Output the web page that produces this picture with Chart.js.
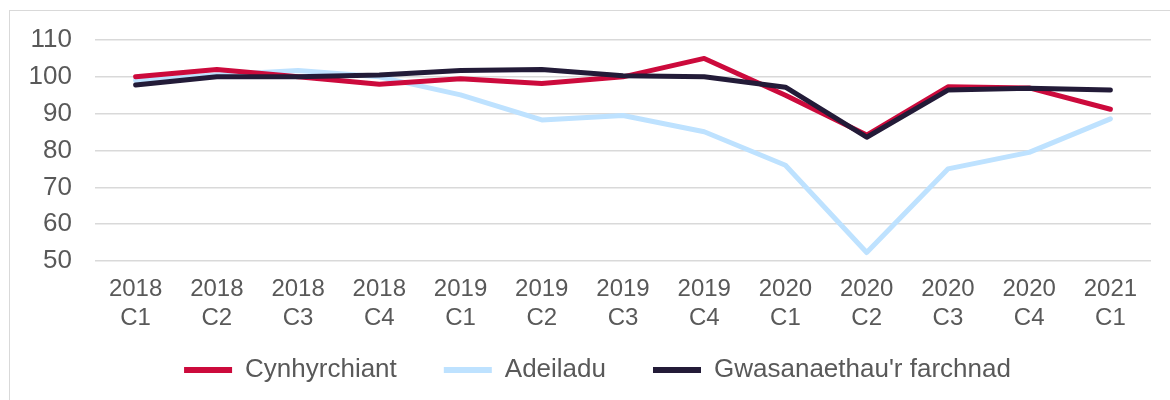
<!DOCTYPE html>
<html><head><meta charset="utf-8">
<script src="https://cdn.jsdelivr.net/npm/chart.js@4/dist/chart.umd.min.js"></script>
<style>
html,body{margin:0;padding:0;background:#fff}
#wrap{position:relative;width:1170px;height:400px;overflow:hidden}
#frame{position:absolute;left:9px;top:10px;width:1200px;height:420px;border:1.5px solid #d9d9d9;box-sizing:border-box}
canvas{position:absolute;left:0;top:0}
</style></head>
<body><div id="wrap"><div id="frame"></div><canvas id="c" width="1170" height="400"></canvas></div>
<script>
const years = ["2018","2018","2018","2018","2019","2019","2019","2019","2020","2020","2020","2020","2021"];
const quarters = ["C1","C2","C3","C4","C1","C2","C3","C4","C1","C2","C3","C4","C1"];
const seriesNames = ["Cynhyrchiant","Adeiladu","Gwasanaethau'r farchnad"];
const cynhyrchiant = [100, 102, 100, 98, 99.5, 98.2, 100, 105, 95, 84.2, 97.3, 97, 91.2];
const adeiladu = [99, 100.5, 101.7, 100, 95.1, 88.3, 89.5, 85.1, 76, 52.3, 75, 79.5, 88.6];
const gwasanaethau = [97.8, 100, 100, 100.5, 101.7, 102, 100.3, 100, 97.2, 83.6, 96.4, 96.9, 96.4];
const yTicks = [50, 60, 70, 80, 90, 100, 110];
const colors = ["#CC0A3C", "#BEE2FF", "#231B38"];

const labels = years.map((y, i) => [y, quarters[i]]);
const font = "'Liberation Sans', Arial, sans-serif";
const txt = "#595959";

function ds(i, data, order) {
  return {label: seriesNames[i], data, borderColor: colors[i], backgroundColor: colors[i],
    borderWidth: 5, pointRadius: 0, tension: 0, borderCapStyle: 'round', borderJoinStyle: 'round', order};
}

const legendPlacer = {
  id: 'legendPlacer',
  afterLayout(chart) {
    const l = chart.legend;
    if (!l) return;
    l.top = 310; l.bottom = 400;
    l.left = 44; l.right = 1151;
  }
};

new Chart(document.getElementById('c'), {
  type: 'line',
  data: {labels, datasets: [ds(0, cynhyrchiant, 1), ds(1, adeiladu, 2), ds(2, gwasanaethau, 0)]},
  plugins: [legendPlacer],
  options: {
    responsive: false, animation: false, devicePixelRatio: 1,
    layout: {padding: {left: 20, right: 19, top: 40, bottom: 0}},
    plugins: {
      tooltip: {enabled: false},
      legend: {
        position: 'bottom',
        maxHeight: 59,
        labels: {
          font: {family: font, size: 26}, color: txt, boxWidth: 48, boxHeight: 6, padding: 47,
          generateLabels: (chart) => chart.data.datasets.map((d, i) => ({
            text: d.label, fillStyle: d.borderColor, strokeStyle: d.borderColor, lineWidth: 0,
            hidden: false, datasetIndex: i, fontColor: txt
          }))
        }
      }
    },
    scales: {
      x: {
        offset: true,
        grid: {display: false, drawTicks: false},
        border: {display: false},
        ticks: {font: {family: font, size: 24, lineHeight: 1.2}, color: txt, padding: 14, maxRotation: 0, autoSkip: false},
        afterFit: (s) => { s.height = 80; }
      },
      y: {
        min: 50, max: 110,
        afterBuildTicks: (s) => { s.ticks = yTicks.map(v => ({value: v})); },
        grid: {color: '#d9d9d9', lineWidth: 1.5, drawTicks: false},
        border: {display: false},
        ticks: {font: {family: font, size: 26}, color: txt, padding: 23},
        afterFit: (s) => { s.width = 75; }
      }
    }
  }
});
</script>
</body></html>
